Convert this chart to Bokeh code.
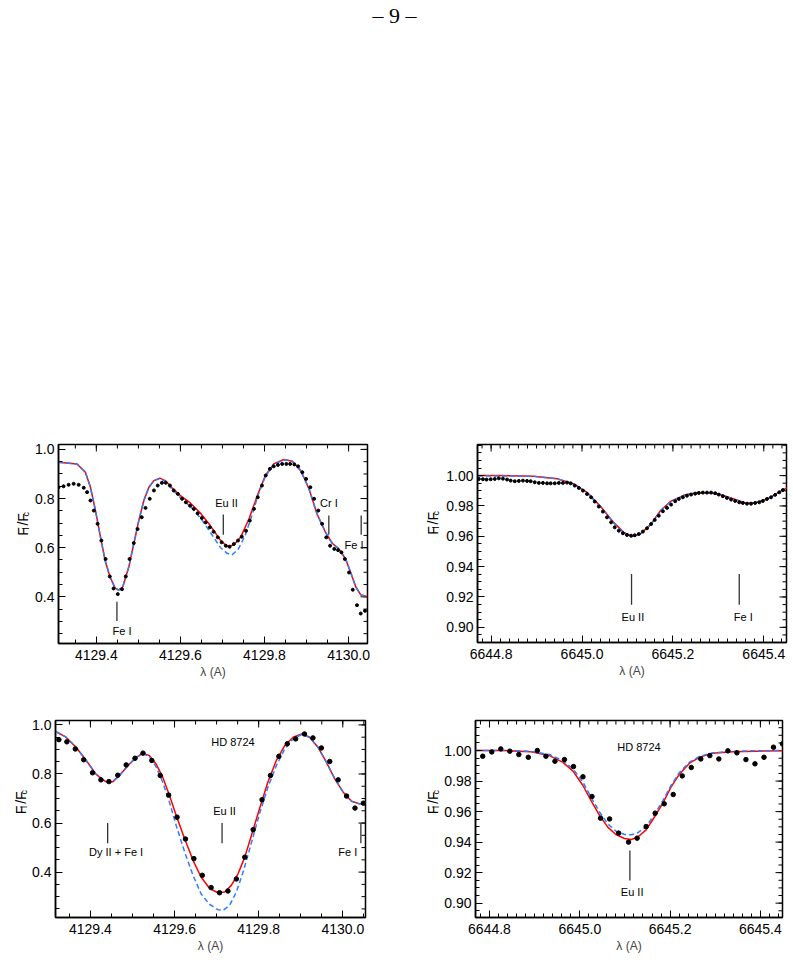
import numpy as np
from math import pi
from bokeh.plotting import figure
from bokeh.layouts import column, row
from bokeh.models import Range1d, FixedTicker, PrintfTickFormatter
from bokeh.core.properties import value
from bokeh.embed import file_html
from bokeh.resources import INLINE

page_label = "\u2013 9 \u2013"
x_label = "\u03bb (A)"
star_name = "HD 8724"
# y label "F_l /F_c": (text, font px, subscript shift, advance)
flux_label_parts = [("F", 14, 0, 8.6), ("l", 9, 3, 5.6), ("/F", 14, 0, 12.6), ("c", 9, 3, 4.6)]

# ---------------- Panel 1 : 4129 A region (observed, dense) ----------------
obs1_wl = [4129.310, 4129.322, 4129.334, 4129.346, 4129.358, 4129.370, 4129.378, 4129.386,
           4129.394, 4129.403, 4129.412, 4129.422, 4129.432, 4129.441, 4129.451, 4129.461,
           4129.470, 4129.479, 4129.489, 4129.498, 4129.508, 4129.517, 4129.527, 4129.537,
           4129.546, 4129.556, 4129.565, 4129.575, 4129.584, 4129.594, 4129.604, 4129.613,
           4129.623, 4129.632, 4129.641, 4129.651, 4129.660, 4129.670, 4129.679, 4129.689,
           4129.698, 4129.708, 4129.717, 4129.727, 4129.737, 4129.746, 4129.756, 4129.765,
           4129.775, 4129.784, 4129.794, 4129.803, 4129.813, 4129.822, 4129.832, 4129.842,
           4129.852, 4129.861, 4129.871, 4129.880, 4129.890, 4129.899, 4129.909, 4129.918,
           4129.928, 4129.937, 4129.947, 4129.956, 4129.966, 4129.975, 4129.983, 4129.991,
           4130.001, 4130.010, 4130.020, 4130.029, 4130.039]
obs1_f = [0.846, 0.850, 0.856, 0.860, 0.856, 0.844, 0.826, 0.792,
          0.751, 0.697, 0.629, 0.554, 0.483, 0.434, 0.411, 0.431,
          0.483, 0.554, 0.619, 0.676, 0.724, 0.762, 0.799, 0.833,
          0.853, 0.864, 0.864, 0.853, 0.833, 0.819, 0.799, 0.785,
          0.771, 0.758, 0.740, 0.721, 0.703, 0.683, 0.665, 0.642,
          0.622, 0.608, 0.604, 0.615, 0.629, 0.645, 0.669, 0.710,
          0.758, 0.805, 0.853, 0.894, 0.921, 0.931, 0.937, 0.941,
          0.941, 0.941, 0.939, 0.931, 0.907, 0.880, 0.846, 0.799,
          0.751, 0.697, 0.642, 0.608, 0.595, 0.590, 0.581, 0.554,
          0.499, 0.429, 0.366, 0.332, 0.343]
red1_wl = [4129.310, 4129.354, 4129.374, 4129.386, 4129.398, 4129.410, 4129.421, 4129.433,
           4129.445, 4129.453, 4129.463, 4129.477, 4129.489, 4129.501, 4129.513, 4129.525,
           4129.537, 4129.551, 4129.564, 4129.580, 4129.600, 4129.624, 4129.648, 4129.671,
           4129.695, 4129.711, 4129.727, 4129.743, 4129.763, 4129.783, 4129.802, 4129.822,
           4129.846, 4129.866, 4129.886, 4129.906, 4129.925, 4129.945, 4129.961, 4129.977,
           4129.993, 4130.005, 4130.017, 4130.029, 4130.044]
red1_f = [0.948, 0.941, 0.907, 0.846, 0.751, 0.642, 0.547, 0.479,
          0.435, 0.427, 0.441, 0.520, 0.615, 0.710, 0.792, 0.846,
          0.873, 0.883, 0.873, 0.844, 0.812, 0.781, 0.740, 0.690,
          0.631, 0.605, 0.611, 0.642, 0.717, 0.812, 0.894, 0.941,
          0.959, 0.952, 0.914, 0.839, 0.737, 0.663, 0.618, 0.595,
          0.554, 0.499, 0.441, 0.408, 0.401]
blue1_wl = [4129.310, 4129.354, 4129.374, 4129.386, 4129.398, 4129.410, 4129.421, 4129.433,
            4129.445, 4129.453, 4129.463, 4129.477, 4129.489, 4129.501, 4129.513, 4129.525,
            4129.537, 4129.551, 4129.564, 4129.580, 4129.600, 4129.624, 4129.648, 4129.671,
            4129.695, 4129.711, 4129.723, 4129.738, 4129.754, 4129.770, 4129.786, 4129.802,
            4129.822, 4129.846, 4129.866, 4129.886, 4129.906, 4129.925, 4129.945, 4129.961,
            4129.977, 4129.993, 4130.005, 4130.017, 4130.029, 4130.044]
blue1_f = [0.948, 0.941, 0.907, 0.846, 0.751, 0.642, 0.547, 0.479,
           0.435, 0.427, 0.441, 0.520, 0.615, 0.710, 0.792, 0.846,
           0.873, 0.881, 0.870, 0.838, 0.803, 0.767, 0.721, 0.663,
           0.601, 0.577, 0.571, 0.595, 0.650, 0.731, 0.820, 0.890,
           0.939, 0.958, 0.952, 0.914, 0.839, 0.737, 0.663, 0.618,
           0.595, 0.554, 0.499, 0.441, 0.408, 0.401]
ids1_names = ["Fe I", "Eu II", "Cr I", "Fe I"]
ids1_wl = [4129.449, 4129.702, 4129.953, 4130.030]
ids1_y0 = [0.302, 0.653, 0.653, 0.653]
ids1_y1 = [0.380, 0.735, 0.731, 0.731]
ids1_tx = [4129.461, 4129.7095, 4129.953, 4130.013]
ids1_ty = [0.261, 0.781, 0.781, 0.611]

# ---------------- Panel 2 : 6645 A region (observed, dense) ----------------
obs2_wl = [6644.773, 6644.782, 6644.790, 6644.799, 6644.808, 6644.817, 6644.826, 6644.835,
           6644.843, 6644.852, 6644.861, 6644.870, 6644.879, 6644.887, 6644.896, 6644.905,
           6644.914, 6644.923, 6644.931, 6644.940, 6644.949, 6644.958, 6644.967, 6644.975,
           6644.984, 6644.993, 6645.002, 6645.011, 6645.020, 6645.028, 6645.037, 6645.046,
           6645.055, 6645.064, 6645.072, 6645.081, 6645.090, 6645.099, 6645.108, 6645.116,
           6645.125, 6645.134, 6645.143, 6645.152, 6645.160, 6645.169, 6645.178, 6645.187,
           6645.196, 6645.205, 6645.213, 6645.222, 6645.231, 6645.240, 6645.249, 6645.257,
           6645.266, 6645.275, 6645.284, 6645.293, 6645.301, 6645.310, 6645.319, 6645.328,
           6645.337, 6645.346, 6645.354, 6645.363, 6645.372, 6645.381, 6645.390, 6645.398,
           6645.407, 6645.416, 6645.425, 6645.434, 6645.442]
obs2_f = [0.9978, 0.9976, 0.9974, 0.9976, 0.9978, 0.9982, 0.9980, 0.9974,
          0.9967, 0.9963, 0.9965, 0.9967, 0.9965, 0.9963, 0.9956, 0.9952,
          0.9952, 0.9949, 0.9949, 0.9949, 0.9952, 0.9952, 0.9954, 0.9949,
          0.9934, 0.9919, 0.9901, 0.9879, 0.9857, 0.9829, 0.9796, 0.9763,
          0.9725, 0.9692, 0.9659, 0.9637, 0.9620, 0.9609, 0.9604, 0.9607,
          0.9615, 0.9631, 0.9653, 0.9681, 0.9708, 0.9736, 0.9765, 0.9787,
          0.9809, 0.9831, 0.9846, 0.9857, 0.9868, 0.9875, 0.9881, 0.9886,
          0.9888, 0.9888, 0.9888, 0.9884, 0.9875, 0.9864, 0.9853, 0.9842,
          0.9833, 0.9824, 0.9820, 0.9815, 0.9815, 0.9820, 0.9824, 0.9833,
          0.9846, 0.9857, 0.9873, 0.9890, 0.9905]
red2_wl = [6644.771, 6644.821, 6644.894, 6644.945, 6644.982, 6645.011, 6645.040, 6645.070,
           6645.092, 6645.110, 6645.128, 6645.151, 6645.173, 6645.195, 6645.224, 6645.254,
           6645.283, 6645.305, 6645.334, 6645.360, 6645.379, 6645.408, 6645.430, 6645.451]
red2_f = [1.0000, 1.0000, 0.9996, 0.9980, 0.9945, 0.9890, 0.9800, 0.9690,
          0.9626, 0.9600, 0.9615, 0.9677, 0.9770, 0.9830, 0.9870, 0.9888,
          0.9886, 0.9875, 0.9846, 0.9820, 0.9820, 0.9846, 0.9884, 0.9919]
blue2_wl = [6644.771, 6644.821, 6644.894, 6644.945, 6644.982, 6645.011, 6645.040, 6645.070,
            6645.092, 6645.110, 6645.128, 6645.151, 6645.173, 6645.195, 6645.224, 6645.254,
            6645.283, 6645.305, 6645.334, 6645.360, 6645.379, 6645.408, 6645.430, 6645.451]
blue2_f = [0.9998, 0.9998, 0.9995, 0.9979, 0.9943, 0.9887, 0.9797, 0.9687,
           0.9623, 0.9598, 0.9613, 0.9676, 0.9769, 0.9829, 0.9870, 0.9887,
           0.9886, 0.9874, 0.9845, 0.9819, 0.9819, 0.9845, 0.9883, 0.9918]
ids2_names = ["Eu II", "Fe I"]
ids2_wl = [6645.109, 6645.346]
ids2_y0 = [0.9149, 0.9149]
ids2_y1 = [0.9352, 0.9352]
ids2_tx = [6645.112, 6645.355]
ids2_ty = [0.907, 0.907]

# ---------------- Panel 3 : 4129 A region, HD 8724 ----------------
obs3_wl = [4129.325, 4129.344, 4129.364, 4129.384, 4129.405, 4129.425, 4129.444, 4129.465,
           4129.485, 4129.506, 4129.525, 4129.546, 4129.566, 4129.586, 4129.606, 4129.626,
           4129.646, 4129.666, 4129.687, 4129.707, 4129.727, 4129.747, 4129.767, 4129.787,
           4129.808, 4129.828, 4129.848, 4129.868, 4129.888, 4129.909, 4129.929, 4129.949,
           4129.969, 4129.989, 4130.009, 4130.029, 4130.049]
obs3_f = [0.940, 0.931, 0.902, 0.858, 0.805, 0.776, 0.769, 0.795,
          0.837, 0.864, 0.885, 0.855, 0.794, 0.714, 0.624, 0.535,
          0.455, 0.387, 0.337, 0.316, 0.323, 0.372, 0.461, 0.573,
          0.695, 0.794, 0.872, 0.923, 0.943, 0.963, 0.947, 0.906,
          0.851, 0.776, 0.710, 0.661, 0.681]
red3_wl = [4129.318, 4129.342, 4129.366, 4129.390, 4129.413, 4129.429, 4129.441, 4129.453,
           4129.469, 4129.489, 4129.509, 4129.525, 4129.540, 4129.556, 4129.572, 4129.588,
           4129.604, 4129.624, 4129.644, 4129.663, 4129.683, 4129.703, 4129.719, 4129.735,
           4129.751, 4129.767, 4129.782, 4129.802, 4129.822, 4129.842, 4129.862, 4129.882,
           4129.902, 4129.921, 4129.941, 4129.961, 4129.981, 4130.001, 4130.021, 4130.040,
           4130.055]
red3_f = [0.973, 0.950, 0.909, 0.855, 0.800, 0.777, 0.765, 0.768,
          0.794, 0.834, 0.868, 0.885, 0.875, 0.841, 0.787, 0.712,
          0.631, 0.536, 0.448, 0.380, 0.334, 0.316, 0.319, 0.346,
          0.393, 0.461, 0.545, 0.658, 0.767, 0.855, 0.916, 0.950,
          0.963, 0.950, 0.909, 0.848, 0.780, 0.726, 0.689, 0.678,
          0.685]
blue3_wl = [4129.318, 4129.342, 4129.366, 4129.390, 4129.413, 4129.429, 4129.441, 4129.453,
            4129.469, 4129.489, 4129.509, 4129.525, 4129.540, 4129.556, 4129.572, 4129.588,
            4129.604, 4129.624, 4129.644, 4129.663, 4129.683, 4129.703, 4129.715, 4129.731,
            4129.747, 4129.763, 4129.782, 4129.802, 4129.822, 4129.842, 4129.862, 4129.882,
            4129.902, 4129.921, 4129.941, 4129.961, 4129.981, 4130.001, 4130.021, 4130.040,
            4130.055]
blue3_f = [0.973, 0.950, 0.909, 0.855, 0.800, 0.777, 0.765, 0.768,
           0.794, 0.834, 0.868, 0.883, 0.871, 0.830, 0.766, 0.685,
           0.590, 0.482, 0.387, 0.312, 0.269, 0.247, 0.244, 0.265,
           0.319, 0.400, 0.515, 0.638, 0.746, 0.834, 0.902, 0.943,
           0.961, 0.950, 0.909, 0.848, 0.780, 0.726, 0.689, 0.678,
           0.685]
ids3_names = ["Dy II + Fe I", "Eu II", "Fe I"]
ids3_wl = [4129.441, 4129.713, 4130.043]
ids3_y0 = [0.518, 0.518, 0.518]
ids3_y1 = [0.600, 0.600, 0.600]
ids3_tx = [4129.461, 4129.719, 4130.012]
ids3_ty = [0.482, 0.649, 0.482]
star3_pos = (4129.739, 0.929)

# ---------------- Panel 4 : 6645 A region, HD 8724 ----------------
obs4_wl = [6644.785, 6644.805, 6644.825, 6644.845, 6644.865, 6644.886, 6644.906, 6644.925,
           6644.945, 6644.966, 6644.986, 6645.007, 6645.027, 6645.046, 6645.066, 6645.086,
           6645.108, 6645.127, 6645.147, 6645.167, 6645.187, 6645.207, 6645.227, 6645.247,
           6645.268, 6645.288, 6645.308, 6645.328, 6645.348, 6645.368, 6645.388, 6645.408,
           6645.429, 6645.449]
obs4_f = [0.9963, 0.9991, 1.0011, 0.9996, 0.9974, 0.9956, 1.0000, 0.9963,
          0.9930, 0.9941, 0.9895, 0.9828, 0.9699, 0.9557, 0.9552, 0.9459,
          0.9400, 0.9426, 0.9502, 0.9590, 0.9651, 0.9712, 0.9834, 0.9889,
          0.9945, 0.9967, 0.9945, 0.9998, 0.9985, 0.9941, 0.9913, 0.9956,
          1.0022, 1.0044]
red4_wl = [6644.769, 6644.830, 6644.889, 6644.933, 6644.962, 6644.985, 6645.007, 6645.025,
           6645.044, 6645.062, 6645.080, 6645.099, 6645.114, 6645.128, 6645.147, 6645.165,
           6645.184, 6645.202, 6645.221, 6645.243, 6645.265, 6645.294, 6645.339, 6645.390,
           6645.449]
red4_f = [1.0000, 1.0000, 0.9993, 0.9967, 0.9924, 0.9865, 0.9771, 0.9672,
          0.9574, 0.9498, 0.9450, 0.9424, 0.9417, 0.9432, 0.9480, 0.9563,
          0.9655, 0.9760, 0.9847, 0.9917, 0.9956, 0.9983, 0.9993, 0.9996,
          0.9998]
blue4_wl = [6644.769, 6644.830, 6644.889, 6644.933, 6644.962, 6644.985, 6645.007, 6645.025,
            6645.044, 6645.062, 6645.080, 6645.099, 6645.114, 6645.128, 6645.147, 6645.165,
            6645.184, 6645.202, 6645.221, 6645.243, 6645.265, 6645.294, 6645.339, 6645.390,
            6645.449]
blue4_f = [1.0000, 1.0000, 0.9996, 0.9974, 0.9934, 0.9880, 0.9793, 0.9694,
           0.9596, 0.9520, 0.9472, 0.9450, 0.9448, 0.9461, 0.9502, 0.9580,
           0.9672, 0.9771, 0.9858, 0.9924, 0.9961, 0.9985, 0.9996, 0.9999,
           1.0000]
ids4_names = ["Eu II"]
ids4_wl = [6645.111]
ids4_y0 = [0.9148]
ids4_y1 = [0.9345]
ids4_tx = [6645.116]
ids4_ty = [0.9072]
star4_pos = (6645.131, 1.0022)

# ---------------- axes ----------------
ticks_blue_x = [4129.4, 4129.6, 4129.8, 4130.0]
ticks_blue_y = [0.4, 0.6, 0.8, 1.0]
ticks_red_x = [6644.8, 6645.0, 6645.2, 6645.4]
ticks_red_y = [0.90, 0.92, 0.94, 0.96, 0.98, 1.00]
minor_blue_x = [round(v, 3) for v in np.arange(4129.30, 4130.06, 0.05)]
minor_blue_y = [round(v, 3) for v in np.arange(0.20, 1.06, 0.05)]
minor_red_x = [round(v, 3) for v in np.arange(6644.76, 6645.47, 0.02)]
minor_red_y = [round(v, 4) for v in np.arange(0.885, 1.026, 0.005)]

FONT = "Liberation Sans"
RED = "#ff0000"
BLUE = "#2f7cff"
MAJ = 7
MIN = 4


def style_axis(ax, standoff):
    ax.axis_line_width = 1.5
    ax.axis_line_color = "black"
    ax.major_tick_in = MAJ
    ax.major_tick_out = 0
    ax.minor_tick_in = MIN
    ax.minor_tick_out = 0
    ax.major_tick_line_color = "black"
    ax.minor_tick_line_color = "black"
    ax.major_tick_line_width = 1
    ax.minor_tick_line_width = 1
    ax.major_label_text_font = FONT
    ax.major_label_text_color = "black"
    ax.major_label_text_font_size = "14px"
    ax.major_label_standoff = standoff


def flux_strip(width, height, xc, yc):
    """Narrow figure that holds the vertical y-axis title F_l /F_c."""
    s = figure(width=width, height=height, x_range=Range1d(0, width),
               y_range=Range1d(0, height), output_backend="svg",
               toolbar_location=None, min_border=0, x_axis_type=None,
               y_axis_type=None, outline_line_color=None)
    s.xgrid.visible = False
    s.ygrid.visible = False
    total = sum(t[3] for t in flux_label_parts)
    y = yc - total / 2
    base = xc + 4.5
    for txt, size, shift, w in flux_label_parts:
        s.text(x=[base + shift], y=[y], text=[txt], angle=pi / 2,
               text_align="left", text_baseline="alphabetic",
               text_font=value(FONT), text_font_size=value(f"{size}px"),
               text_color="black")
        y += w
    return s


def make_panel(xr, yr, xt, xmin, yt, ymin, yfmt, fw, fh, bl, br, bt, bb):
    p = figure(frame_width=fw, frame_height=fh,
               x_range=Range1d(*xr), y_range=Range1d(*yr),
               output_backend="svg", toolbar_location=None,
               min_border_left=bl, min_border_right=br,
               min_border_top=bt, min_border_bottom=bb)
    p.xgrid.visible = False
    p.ygrid.visible = False
    p.outline_line_color = "black"
    p.outline_line_width = 1.5
    p.background_fill_color = "white"
    p.border_fill_color = "white"
    p.xaxis.ticker = FixedTicker(ticks=xt, minor_ticks=xmin)
    p.xaxis.formatter = PrintfTickFormatter(format="%.1f")
    p.yaxis.ticker = FixedTicker(ticks=yt, minor_ticks=ymin)
    p.yaxis.formatter = PrintfTickFormatter(format=yfmt)
    style_axis(p.xaxis[0], 6)
    style_axis(p.yaxis[0], 4)
    p.xaxis.axis_label = x_label
    p.xaxis.axis_label_text_font = FONT
    p.xaxis.axis_label_text_font_size = "12px"
    p.xaxis.axis_label_text_font_style = "normal"
    p.xaxis.axis_label_standoff = 2
    # mirrored inward ticks on top and right edges, at the same tick values
    p.ray(x=xt, y=[yr[1]] * len(xt), length=MAJ, length_units="screen",
          angle=-pi / 2, line_color="black", line_width=1)
    p.ray(x=xmin, y=[yr[1]] * len(xmin), length=MIN, length_units="screen",
          angle=-pi / 2, line_color="black", line_width=1)
    p.ray(x=[xr[1]] * len(yt), y=yt, length=MAJ, length_units="screen",
          angle=pi, line_color="black", line_width=1)
    p.ray(x=[xr[1]] * len(ymin), y=ymin, length=MIN, length_units="screen",
          angle=pi, line_color="black", line_width=1)
    return p


def draw(p, obs_wl, obs_f, dot, red_wl, red_f, blue_wl, blue_f,
         names, lwl, ly0, ly1, tx, ty, star=None):
    p.line(red_wl, red_f, line_color=RED, line_width=1.5)
    p.line(blue_wl, blue_f, line_color=BLUE, line_width=1.5, line_dash="5 3")
    p.scatter(obs_wl, obs_f, size=dot, color="black", marker="circle")
    p.segment(x0=lwl, y0=ly0, x1=lwl, y1=ly1, line_color="#333333", line_width=1.3)
    p.text(x=tx, y=ty, text=names, text_font=value(FONT), text_font_size=value("11px"),
           text_align="center", text_baseline="middle", text_color="black")
    if star is not None:
        p.text(x=[star[0]], y=[star[1]], text=[star_name], text_font=value(FONT),
               text_font_size=value("11px"), text_align="center",
               text_baseline="middle", text_color="black")


# row 1 : height 14 + 199 + 63 = 276
p1 = make_panel((4129.31, 4130.045), (0.21, 1.02), ticks_blue_x, minor_blue_x,
                ticks_blue_y, minor_blue_y, "%.1f", 309, 199, 26, 12, 14, 63)
draw(p1, obs1_wl, obs1_f, 3, red1_wl, red1_f, blue1_wl, blue1_f,
     ids1_names, ids1_wl, ids1_y0, ids1_y1, ids1_tx, ids1_ty)
lab1 = flux_strip(32, 276, 18, 63 + 101.5)

p2 = make_panel((6644.77, 6645.45), (0.89, 1.0205), ticks_red_x, minor_red_x,
                ticks_red_y, minor_red_y, "%.2f", 309, 198, 37, 7, 14, 64)
draw(p2, obs2_wl, obs2_f, 3, red2_wl, red2_f, blue2_wl, blue2_f,
     ids2_names, ids2_wl, ids2_y0, ids2_y1, ids2_tx, ids2_ty)
lab2 = flux_strip(61, 276, 49, 64 + 102)

# row 2 : height 14 + 197 + 55 = 266
p3 = make_panel((4129.317, 4130.054), (0.215, 1.018), ticks_blue_x, minor_blue_x,
                ticks_blue_y, minor_blue_y, "%.1f", 310, 197, 24, 12, 14, 55)
draw(p3, obs3_wl, obs3_f, 4.5, red3_wl, red3_f, blue3_wl, blue3_f,
     ids3_names, ids3_wl, ids3_y0, ids3_y1, ids3_tx, ids3_ty, star3_pos)
lab3 = flux_strip(29, 266, 16, 55 + 100)

p4 = make_panel((6644.769, 6645.449), (0.8906, 1.0197), ticks_red_x, minor_red_x,
                ticks_red_y, minor_red_y, "%.2f", 307, 197, 34, 13, 14, 55)
draw(p4, obs4_wl, obs4_f, 4.5, red4_wl, red4_f, blue4_wl, blue4_f,
     ids4_names, ids4_wl, ids4_y0, ids4_y1, ids4_tx, ids4_ty, star4_pos)
lab4 = flux_strip(64, 266, 51, 55 + 100)

header = figure(width=793, height=430, x_range=Range1d(0, 1), y_range=Range1d(0, 1),
                output_backend="svg", toolbar_location=None, min_border=0,
                x_axis_type=None, y_axis_type=None, outline_line_color=None)
header.text(x=[0.497], y=[0.965], text=[page_label], text_font=value("Liberation Serif"),
            text_font_size=value("22px"), text_align="center", text_baseline="middle",
            text_color="black")

layout = column(header, row(lab1, p1, lab2, p2), row(lab3, p3, lab4, p4))
open("out.html", "w").write(file_html(layout, INLINE))
